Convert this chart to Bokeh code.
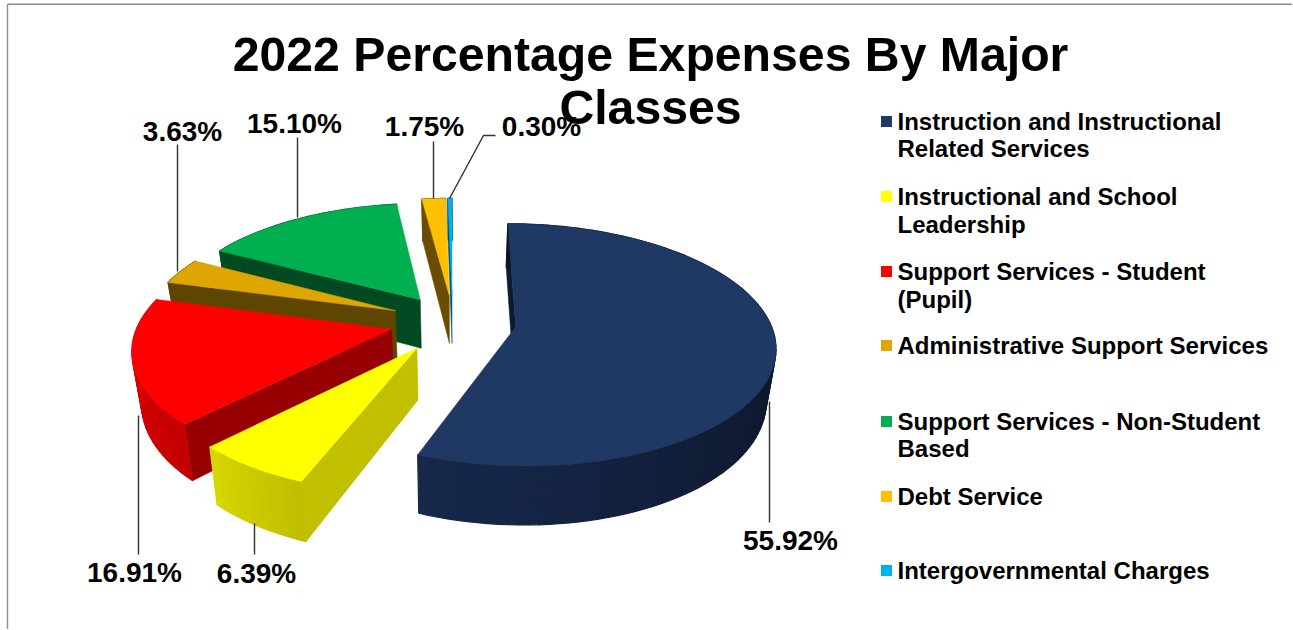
import math
from bokeh.plotting import figure
from bokeh.models import Range1d, ColumnDataSource
from bokeh.core.properties import value
from bokeh.embed import file_html
from bokeh.resources import INLINE

# ---- data -------------------------------------------------------------
title_lines = ["2022 Percentage Expenses By Major", "Classes"]
categories = [
    ["Instruction and Instructional", "Related Services"],
    ["Instructional and School", "Leadership"],
    ["Support Services - Student", "(Pupil)"],
    ["Administrative Support Services"],
    ["Support Services - Non-Student", "Based"],
    ["Debt Service"],
    ["Intergovernmental Charges"],
]
percentages = [55.92, 6.39, 16.91, 3.63, 15.10, 1.75, 0.30]

# ---- style / layout ----------------------------------------------------
top_colors = ["#1f3864", "#ffff00", "#ff0000", "#dfa500", "#00b050", "#ffc000", "#00b0f0"]
radial_wall = ["#0e1a30", "#c0c000", "#960000", "#5e4600", "#034a22", "#6a4e00", "#00526e"]
arc_wall_a = ["#0b1526", "#bfbf00", "#c40000", "#5e4600", "#034a22", "#6a4e00", "#00526e"]
arc_wall_b = ["#17284c", "#d8d800", "#e40000", "#5e4600", "#034a22", "#6a4e00", "#00526e"]
explode = [0.24, 0.26, 0.25, 0.25, 0.23, 0.23, 0.23]
radius = [0.985, 0.97, 0.98, 0.97, 0.98, 1.0, 1.0]
nudge_x = [0, 0, 0, 0, -1.5, -1, -2]
CX, CY, RX, RY, K, DEPTH, A0 = 455, 322, 258, 118.6, 0.15, 50, 0.0
CONVERGE = 0.97

legend_y = [[122, 149], [197, 225], [272, 300], [346], [422, 449], [497], [571]]
label_pos = [(791, 541), (257, 574), (135, 573), (183, 132), (295, 124), (425, 127), (542, 127)]
leaders = [
    [(770, 402), (770, 523)],
    [(255, 524), (255, 555)],
    [(139, 416), (139, 555)],
    [(178, 272), (178, 145)],
    [(298, 218), (298, 138)],
    [(434, 199), (434, 142)],
    [(450, 199), (484, 136), (496, 136)],
]
FONT = value("Liberation Sans")

OX, OY = -1, -4
W, H = 1294, 634
p = figure(width=W, height=H, output_backend="svg", toolbar_location=None,
           x_range=Range1d(OX, OX + W), y_range=Range1d(OY + H, OY),
           min_border=0, outline_line_color=None, margin=(-5, -8, -8, -2))
p.axis.visible = False
p.grid.visible = False


def mix(a, b, t):
    ca = [int(a[i:i + 2], 16) for i in (1, 3, 5)]
    cb = [int(b[i:i + 2], 16) for i in (1, 3, 5)]
    return "#%02x%02x%02x" % tuple(round(x + (y - x) * t) for x, y in zip(ca, cb))


def project(i, r, deg, mid):
    th, m = math.radians(deg), math.radians(mid)
    X = explode[i] * math.sin(m) + r * radius[i] * math.sin(th)
    Y = -explode[i] * math.cos(m) - r * radius[i] * math.cos(th)
    f = 1 / (1 - K * Y)
    return CX + nudge_x[i] + RX * X * f, CY + RY * Y * f, DEPTH * f


def low_x(x):
    # the lower rim of the solid draws slightly towards the vanishing line
    return CX + (x - CX) * CONVERGE


# frame
p.line([8, 8], [630, 4.7], line_color="#8c8c8c", line_width=1.4)
p.line([8, 1293], [4.7, 4.7], line_color="#8c8c8c", line_width=1.4)

# angular spans
starts, ends = [], []
a = A0
for v in percentages:
    starts.append(a)
    a += v * 3.6
    ends.append(a)

# back to front
for i in range(len(percentages) - 1, -1, -1):
    s, e = starts[i], ends[i]
    mid = (s + e) / 2
    n = max(10, int((e - s) / 2))
    angs = [s + (e - s) * j / n for j in range(n + 1)]
    pts = [project(i, 1, t, mid) for t in angs]
    ax, ay, ad = project(i, 0, 0, mid)
    # radial wall at the start edge
    p.patch([pts[0][0], ax, low_x(ax), low_x(pts[0][0])],
            [pts[0][1], ay, ay + ad, pts[0][1] + pts[0][2]],
            fill_color=radial_wall[i], line_color=radial_wall[i], line_width=0.5)
    # outer wall, shaded strip by strip
    xs, ys, cols = [], [], []
    for j in range(n):
        x0, y0, d0 = pts[j]
        x1, y1, d1 = pts[j + 1]
        xs.append([x0, x1, low_x(x1), low_x(x0)])
        ys.append([y0, y1, y1 + d1, y0 + d0])
        lo = max(s, 90) if i == 0 else s
        t = min(1, max(0, (angs[j] - lo) / max(1e-6, e - lo)))
        cols.append(mix(arc_wall_a[i], arc_wall_b[i], t))
    p.patches("xs", "ys", fill_color="c", line_color="c", line_width=1.2,
              source=ColumnDataSource(dict(xs=xs, ys=ys, c=cols)))
    # top face
    p.patch([ax] + [q[0] for q in pts], [ay] + [q[1] for q in pts],
            fill_color=top_colors[i], line_color=top_colors[i], line_width=0.5)

# leaders
for pts in leaders:
    p.line([q[0] for q in pts], [q[1] for q in pts], line_color="#303030", line_width=1.4)

# value labels
p.text([q[0] for q in label_pos], [q[1] for q in label_pos],
       text=[f"{v:.2f}%" for v in percentages], text_font=FONT, text_font_style="bold",
       text_font_size="28px", text_align="center", text_baseline="middle", text_color="#000000")

# title
p.text([651, 651], [54, 107], text=title_lines, text_font=FONT, text_font_style="bold",
       text_font_size="48.2px", text_align="center", text_baseline="middle", text_color="#000000")

# legend
for i, lines in enumerate(categories):
    p.scatter([887], [legend_y[i][0]], marker="square", size=11, fill_color=top_colors[i],
              line_color=None)
    p.text([898] * len(lines), legend_y[i], text=lines, text_font=FONT, text_font_style="bold",
           text_font_size="24px", text_align="left", text_baseline="middle", text_color="#000000")

open("out.html", "w").write(file_html(p, INLINE))
